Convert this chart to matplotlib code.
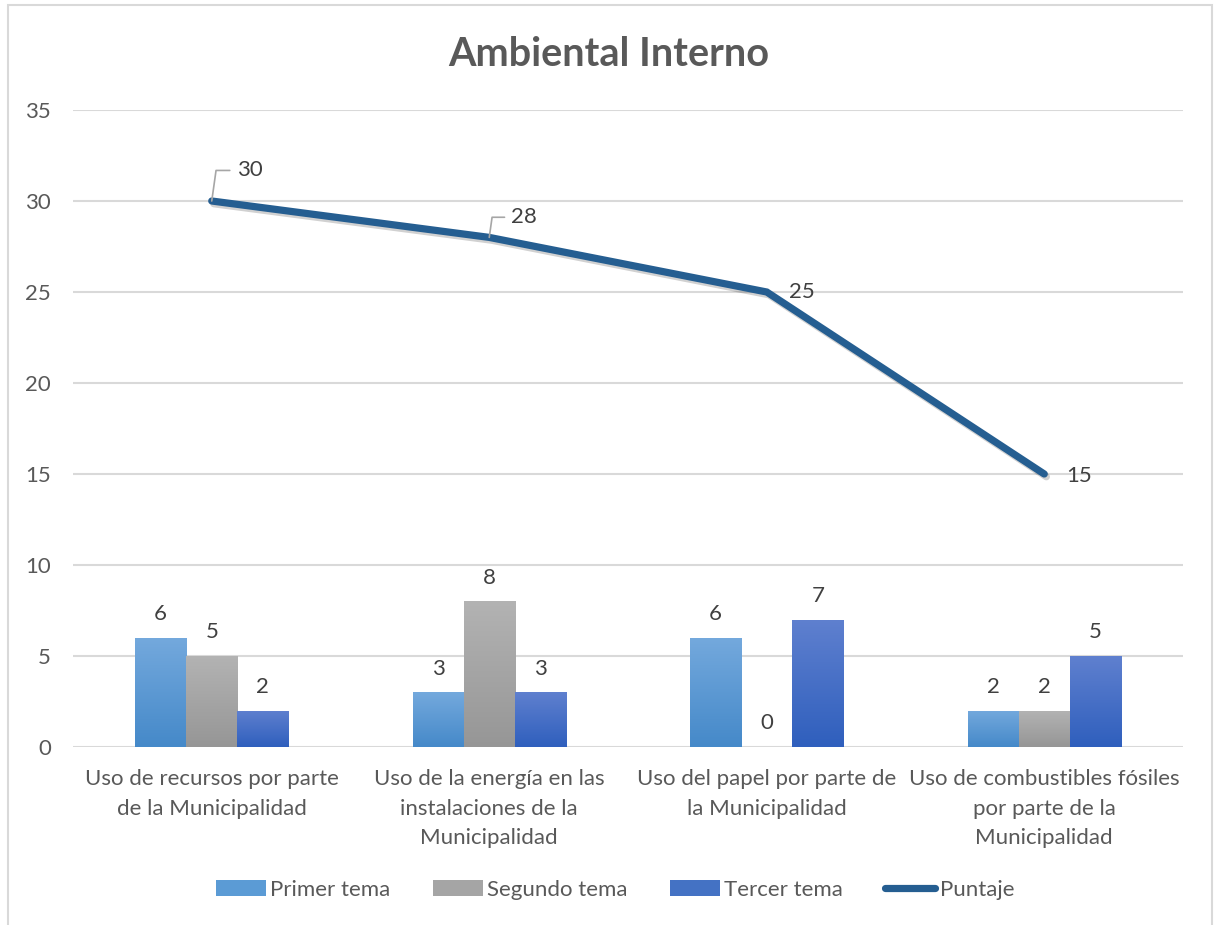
import numpy as np
import matplotlib
matplotlib.use("Agg")
import matplotlib.pyplot as plt
from matplotlib.colors import LinearSegmentedColormap
from matplotlib.patches import Patch, Rectangle
from matplotlib.lines import Line2D
import matplotlib.patheffects as pe

plt.rcParams['font.family'] = ['Lato', 'DejaVu Sans']

# --- data ---
categories = [
    "Uso de recursos por parte\nde la Municipalidad",
    "Uso de la energía en las\ninstalaciones de la\nMunicipalidad",
    "Uso del papel por parte de\nla Municipalidad",
    "Uso de combustibles fósiles\npor parte de la\nMunicipalidad",
]
primer_tema = [6, 3, 6, 2]
segundo_tema = [5, 8, 0, 2]
tercer_tema = [2, 3, 7, 5]
puntaje = [30, 28, 25, 15]
series_names = ["Primer tema", "Segundo tema", "Tercer tema", "Puntaje"]
y_ticks = [0, 5, 10, 15, 20, 25, 30, 35]

# --- styles ---
text_col = "#595959"
label_col = "#404040"
grid_col = "#d9d9d9"
line_col = "#255e91"
bar_grads = [
    ("#74a9dd", "#4589c9"),   # top, bottom
    ("#b3b3b3", "#969696"),
    ("#5f80cf", "#2f5fbd"),
]
bar_mid = ["#5b9bd5", "#a5a5a5", "#4472c4"]
fs = 16

fig = plt.figure(figsize=(12.18, 9.25), dpi=100)
fig.patch.set_facecolor("white")

# chart frame
fig.add_artist(Rectangle((8 / 1218, -0.02), (1212 - 8) / 1218, 1.02 - 5 / 925,
                         transform=fig.transFigure, fill=False,
                         edgecolor=grid_col, linewidth=1.5, zorder=0))

ax = fig.add_axes([73 / 1218, 178 / 925, 1110 / 1218, 637 / 925])
ax.set_facecolor("none")

x = np.arange(len(categories))
bw = 0.184
series = [primer_tema, segundo_tema, tercer_tema]
offsets = [-bw, 0, bw]

for vals, off, (ctop, cbot) in zip(series, offsets, bar_grads):
    cmap = LinearSegmentedColormap.from_list("g", [cbot, ctop])
    bars = ax.bar(x + off, vals, width=bw, color="none", edgecolor="none", zorder=3)
    for rect, v in zip(bars, vals):
        if v <= 0:
            continue
        # soft shadow behind the bar
        sh = Rectangle((rect.get_x(), 0), rect.get_width(), v,
                       facecolor="white", edgecolor="none", zorder=2)
        ax.add_patch(sh)
        sh.set_path_effects([pe.SimplePatchShadow(offset=(0, -1), shadow_rgbFace="#000000", alpha=0.12)])
        grad = np.linspace(0, 1, 256).reshape(-1, 1)
        im = ax.imshow(grad, extent=[rect.get_x(), rect.get_x() + rect.get_width(), 0, v],
                       origin="lower", aspect="auto", cmap=cmap, zorder=3)
        im.set_clip_path(rect)
    for xi, v in zip(x + off, vals):
        ax.annotate(str(v), (xi, v), xytext=(0, 10), textcoords="offset points",
                    ha="center", va="bottom", fontsize=fs, color=label_col, zorder=5)

# score line
ax.plot(x, puntaje, color=line_col, linewidth=5.2, solid_capstyle="round",
        solid_joinstyle="miter", zorder=4,
        path_effects=[pe.SimpleLineShadow(offset=(1.5, -2), shadow_color="#000000", alpha=0.18),
                      pe.Normal()])

# line data labels (first two with leader lines)
lbl_offsets = [(18, 22), (16, 14.5), (16, 0), (16, -1.5)]
for i, (xi, v) in enumerate(zip(x, puntaje)):
    dx, dy = lbl_offsets[i]
    if i < 2:
        ax.annotate(str(v), (xi, v), xytext=(dx, dy), textcoords="offset points",
                    ha="left", va="center", fontsize=fs, color=label_col, zorder=6,
                    arrowprops=dict(arrowstyle="-", color="#a6a6a6", lw=1.2,
                                    connectionstyle="angle,angleA=0,angleB=82,rad=0",
                                    shrinkA=3, shrinkB=0))
    else:
        ax.annotate(str(v), (xi, v), xytext=(dx, dy), textcoords="offset points",
                    ha="left", va="center", fontsize=fs, color=label_col, zorder=6)

ax.set_xlim(-0.5, 3.5)
ax.set_ylim(0, 35)
ax.set_yticks(y_ticks)
ax.set_yticklabels([str(t) for t in y_ticks])
ax.set_xticks(x)
ax.set_xticklabels(categories, linespacing=1.6)
ax.tick_params(axis="both", length=0, labelsize=fs, colors=text_col)
ax.tick_params(axis="y", pad=16)
ax.tick_params(axis="x", pad=16)
ax.yaxis.grid(True, color=grid_col, linewidth=1.5, zorder=0)
ax.set_axisbelow(True)
for s in ax.spines.values():
    s.set_visible(False)

fig.text(0.5, 1 - 55 / 925, "Ambiental Interno", ha="center", va="center",
         fontsize=28.5, fontweight="bold", color=text_col)

handles = [Patch(facecolor=c, edgecolor="none") for c in bar_mid]
handles.append(Line2D([0], [0], color=line_col, linewidth=5.2, solid_capstyle="round"))
leg = fig.legend(handles, series_names, loc="center", bbox_to_anchor=(0.505, 1 - 890 / 925),
                 ncol=4, frameon=False, fontsize=fs, handlelength=2.25, handleheight=0.75,
                 handletextpad=0.2, columnspacing=1.9)
for t in leg.get_texts():
    t.set_color(text_col)

fig.savefig("out.png", dpi=100, facecolor="white")
